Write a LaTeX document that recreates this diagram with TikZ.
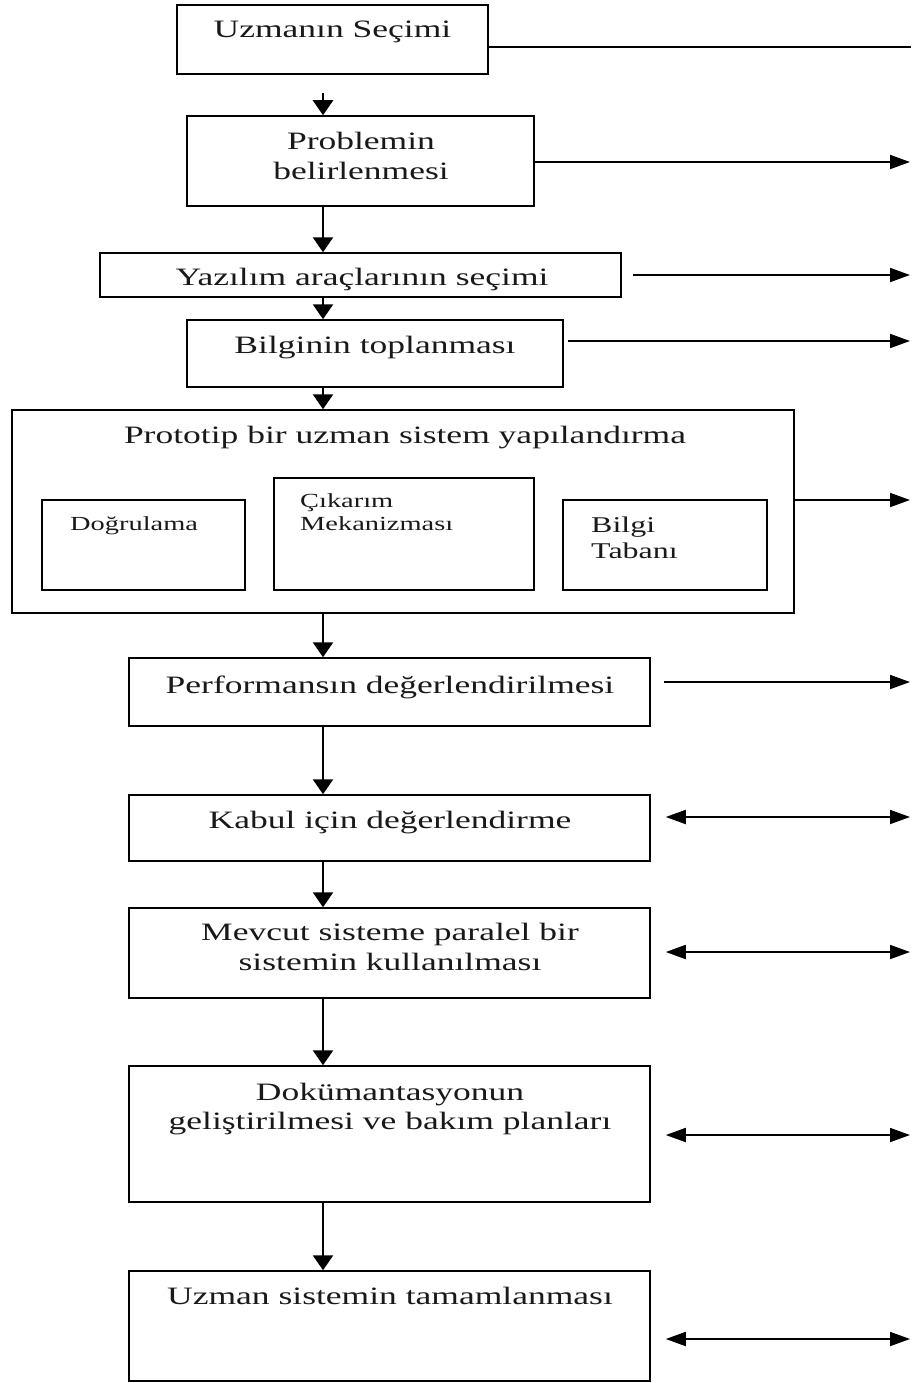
\documentclass[tikz,border=0pt]{standalone}
\usepackage{fontspec}
\setmainfont{Liberation Serif}[FakeStretch=1.42]
\usetikzlibrary{arrows.meta}
\begin{document}
\begin{tikzpicture}[x=1pt,y=1pt,
  box/.style={draw=black,line width=1.5pt,inner sep=0pt,rectangle},
  txt/.style={anchor=base,inner sep=0pt,font=\fontsize{25}{30}\selectfont,text=black!90},
  smalltxt/.style={anchor=base west,inner sep=0pt,font=\fontsize{20}{24}\selectfont,text=black!90},
  midtxt/.style={anchor=base west,inner sep=0pt,font=\fontsize{22.5}{27}\selectfont,text=black!90},
  down/.style={line width=2.5pt,-{Triangle[length=15pt,width=20pt]}},
  side/.style={line width=1.8pt,-{Triangle[length=20pt,width=14pt]}},
  both/.style={line width=1.8pt,{Triangle[length=20pt,width=14pt]}-{Triangle[length=20pt,width=14pt]}},
  plain/.style={line width=1.8pt}]
\useasboundingbox (0,0) rectangle (911,-1383);

% boxes
\node[box,minimum width=311pt,minimum height=69pt] (b1) at (332.5,-39.5) {};
\node[box,minimum width=347pt,minimum height=90pt] (b2) at (360.5,-161) {};
\node[box,minimum width=521pt,minimum height=44pt] (b3) at (360.5,-275) {};
\node[box,minimum width=376pt,minimum height=67pt] (b4) at (375,-353.5) {};
\node[box,minimum width=782pt,minimum height=203pt] (b5) at (403,-511.5) {};
\node[box,minimum width=203pt,minimum height=90pt] (i1) at (143.5,-545) {};
\node[box,minimum width=260pt,minimum height=112pt] (i2) at (404,-534) {};
\node[box,minimum width=204pt,minimum height=90pt] (i3) at (665,-545) {};
\node[box,minimum width=521pt,minimum height=68pt] (b6) at (389.5,-692) {};
\node[box,minimum width=521pt,minimum height=66pt] (b7) at (389.5,-828) {};
\node[box,minimum width=521pt,minimum height=90pt] (b8) at (389.5,-953) {};
\node[box,minimum width=521pt,minimum height=136pt] (b9) at (389.5,-1134) {};
\node[box,minimum width=521pt,minimum height=110pt] (b10) at (389.5,-1326) {};

% texts
\node[txt] (t1) at (332.5,-38) {Uzmanın Seçimi};
\node[txt] (t2a) at (361,-150) {Problemin};
\node[txt] (t2b) at (361,-179) {belirlenmesi};
\node[txt] (t3) at (362,-285) {Yazılım araçlarının seçimi};
\node[txt] (t4) at (375,-353) {Bilginin toplanması};
\node[txt] (t5) at (405,-443) {Prototip bir uzman sistem yapılandırma};
\node[smalltxt] (ti1) at (70,-530) {Doğrulama};
\node[smalltxt] (ti2a) at (300,-507) {Çıkarım};
\node[smalltxt] (ti2b) at (300,-530) {Mekanizması};
\node[midtxt] (ti3a) at (591,-532) {Bilgi};
\node[midtxt] (ti3b) at (591,-558) {Tabanı};
\node[txt] (t6) at (390,-693) {Performansın değerlendirilmesi};
\node[txt] (t7) at (390,-828) {Kabul için değerlendirme};
\node[txt] (t8a) at (390,-940) {Mevcut sisteme paralel bir};
\node[txt] (t8b) at (390,-970) {sistemin kullanılması};
\node[txt] (t9a) at (390,-1100) {Dokümantasyonun};
\node[txt] (t9b) at (390,-1129) {geliştirilmesi ve bakım planları};
\node[txt] (t10) at (390,-1304) {Uzman sistemin tamamlanması};

% vertical axis
\coordinate (ax) at (323,0);
\coordinate (s1) at (323,-93);
\draw[down] (s1) -- (b2.north -| ax);
\draw[down] (b2.south -| ax) -- (b3.north -| ax);
\draw[down] (b3.south -| ax) -- (b4.north -| ax);
\draw[down] (b4.south -| ax) -- (b5.north -| ax);
\draw[down] (b5.south -| ax) -- (b6.north -| ax);
\draw[down] (b6.south -| ax) -- (b7.north -| ax);
\draw[down] (b7.south -| ax) -- (b8.north -| ax);
\draw[down] (b8.south -| ax) -- (b9.north -| ax);
\draw[down] (b9.south -| ax) -- (b10.north -| ax);

% right side connectors
\coordinate (e1) at (911,-47);
\coordinate (e2) at (910,-162);
\coordinate (e3) at (910,-275);
\coordinate (e4) at (910,-341);
\coordinate (e5) at (910,-500);
\coordinate (e6) at (910,-682);
\coordinate (e7) at (910,-817);
\coordinate (e8) at (910,-952);
\coordinate (e9) at (910,-1135);
\coordinate (e10) at (910,-1339);
\draw[plain] (b1.east |- e1) -- (e1);
\draw[side] (b2.east |- e2) -- (e2);
\draw[side,shorten <=11pt] (b3.east |- e3) -- (e3);
\draw[side,shorten <=4pt] (b4.east |- e4) -- (e4);
\draw[side] (b5.east |- e5) -- (e5);
\draw[side,shorten <=13pt] (b6.east |- e6) -- (e6);
\draw[both,shorten <=15pt] (b7.east |- e7) -- (e7);
\draw[both,shorten <=15pt] (b8.east |- e8) -- (e8);
\draw[both,shorten <=15pt] (b9.east |- e9) -- (e9);
\draw[both,shorten <=15pt] (b10.east |- e10) -- (e10);
\end{tikzpicture}
\end{document}
